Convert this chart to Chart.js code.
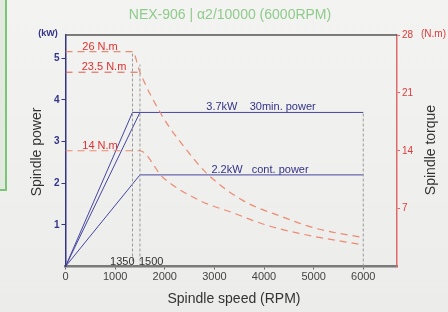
<!DOCTYPE html>
<html>
<head>
<meta charset="utf-8">
<script src="https://cdn.jsdelivr.net/npm/chart.js@4.4.1/dist/chart.umd.min.js"></script>
<style>
  body { margin: 0; background: #f0f0ee; }
  #wrap { position: relative; width: 448px; height: 312px;
          background: linear-gradient(#f3f3f1, #ececea); }
  #side { position: absolute; left: 0; top: 0; width: 5px; height: 189px;
          background: #e2e9df; border-right: 2px solid #7cc47a; border-bottom: 2px solid #7cc47a; }
</style>
</head>
<body>
<div id="wrap">
  <div id="side"></div>
  <canvas id="chart" width="448" height="312"></canvas>
</div>
<script>
// chart text
const chartTitle = "NEX-906 | \u03b12/10000 (6000RPM)";
const xTitle = "Spindle speed (RPM)";
const yTitle = "Spindle power";
const y2Title = "Spindle torque";

// tick labels
const speedTicks = [0, 1000, 2000, 3000, 4000, 5000, 6000];
const powerTicks = [1, 2, 3, 4, 5];
const torqueTicks = [7, 14, 21, 28];

// power curves (kW)
const power30Speed = [0, 1350, 1500, 6000];
const power30 = [0, 3.7, 3.7, 3.7];
const power30bSpeed = [0, 1500];
const power30b = [0, 3.7];
const powerContSpeed = [0, 1500, 6000];
const powerCont = [0, 2.2, 2.2];

// torque curves (N.m)
const torque30Speed = [0, 1350, 1500, 1960, 2440, 2840, 3570, 4370, 5050, 6000];
const torque30 = [26, 26, 23.5, 18.1, 14.1, 11.3, 8.0, 6.0, 4.6, 3.5];
const torqueContSpeed = [0, 1500, 1960, 2700, 3370, 4050, 4710, 6000];
const torqueCont = [14, 14, 10.8, 8.0, 6.5, 5.0, 4.0, 2.6];
const torqueRefSpeed = [0, 1500];
const torqueRef = [23.5, 23.5];

// guide lines (kW scale)
const guideSpeeds = [1350, 1500, 6000];
const guideTops = [5.15, 4.85, 3.7];

const pts = (xs, ys) => xs.map((x, i) => ({ x: x, y: ys[i] }));
const setTicks = (values) => (scale) => { scale.ticks = values.map((v) => ({ value: v })); };

const blue = "#4646a0";
const navy = "#33338a";
const red = "#e05a4a";
const salmon = "#ec8a72";

const datasets = [];
guideSpeeds.forEach((s, i) => {
  datasets.push({
    data: pts([s, s], [0, guideTops[i]]),
    borderColor: "#9a9a9a", borderWidth: 1, borderDash: [3, 2], yAxisID: "y"
  });
});
datasets.push({ data: pts(torqueRefSpeed, torqueRef), borderColor: red, borderWidth: 1, borderDash: [7, 6], yAxisID: "y2" });
datasets.push({ data: pts(torque30Speed, torque30), borderColor: salmon, borderWidth: 1.2, borderDash: [7, 5], yAxisID: "y2", cubicInterpolationMode: "monotone" });
datasets.push({ data: pts(torqueContSpeed, torqueCont), borderColor: salmon, borderWidth: 1.2, borderDash: [7, 5], yAxisID: "y2", cubicInterpolationMode: "monotone" });
datasets.push({ data: pts(power30Speed, power30), borderColor: blue, borderWidth: 1, yAxisID: "y" });
datasets.push({ data: pts(power30bSpeed, power30b), borderColor: blue, borderWidth: 1, yAxisID: "y" });
datasets.push({ data: pts(powerContSpeed, powerCont), borderColor: blue, borderWidth: 1, yAxisID: "y" });

const font = '"Liberation Sans", Arial, sans-serif';

// texts drawn on top of the chart
const decorations = {
  id: "decorations",
  afterDraw(chart) {
    const ctx = chart.ctx;
    const a = chart.chartArea;
    const x = chart.scales.x, y = chart.scales.y, y2 = chart.scales.y2;
    ctx.save();
    // top frame line
    ctx.strokeStyle = "#555";
    ctx.lineWidth = 1.5;
    ctx.beginPath();
    ctx.moveTo(a.left, a.top);
    ctx.lineTo(a.right, a.top);
    ctx.stroke();

    // title
    ctx.fillStyle = "#8fcb8c";
    ctx.font = "14px " + font;
    ctx.textAlign = "center";
    ctx.textBaseline = "middle";
    ctx.fillText(chartTitle, 230, 15);

    // axis titles
    ctx.fillStyle = "#333";
    ctx.font = "14px " + font;
    ctx.fillText(xTitle, 234, 299);
    ctx.save();
    ctx.translate(37, 152);
    ctx.rotate(-Math.PI / 2);
    ctx.fillText(yTitle, 0, 0);
    ctx.restore();
    ctx.save();
    ctx.translate(431, 150);
    ctx.rotate(-Math.PI / 2);
    ctx.fillText(y2Title, 0, 0);
    ctx.restore();

    // units
    ctx.font = "bold 9px " + font;
    ctx.fillStyle = navy;
    ctx.fillText("(kW)", 48, 34);
    ctx.font = "10px " + font;
    ctx.fillStyle = "#e03a3a";
    ctx.textAlign = "left";
    ctx.fillText("(N.m)", 421, 34);

    // torque labels
    ctx.font = "11px " + font;
    ctx.fillStyle = "#e03030";
    ctx.textAlign = "center";
    ctx.textBaseline = "alphabetic";
    ctx.fillText("26 N.m", 100, y2.getPixelForValue(26) - 2);
    ctx.fillText("23.5 N.m", 104, y2.getPixelForValue(23.5) - 2);
    ctx.fillText("14 N.m", 100, y2.getPixelForValue(14) - 2);

    // power labels
    ctx.fillStyle = navy;
    ctx.fillText("3.7kW    30min. power", 261, y.getPixelForValue(3.7) - 2);
    ctx.fillText("2.2kW   cont. power", 260, y.getPixelForValue(2.2) - 2);

    // base speed labels
    ctx.fillStyle = "#333";
    ctx.textAlign = "right";
    ctx.fillText("1350", x.getPixelForValue(1350) + 2, a.bottom - 2);
    ctx.textAlign = "left";
    ctx.fillText("1500", x.getPixelForValue(1500) - 1, a.bottom - 2);
    ctx.restore();
  }
};

new Chart(document.getElementById("chart"), {
  type: "scatter",
  data: { datasets: datasets },
  options: {
    responsive: false,
    animation: false,
    showLine: true,
    layout: { padding: { top: 35, left: 0, right: 0, bottom: 0 } },
    elements: { point: { radius: 0 }, line: { tension: 0 } },
    plugins: { legend: { display: false }, tooltip: { enabled: false } },
    scales: {
      x: {
        type: "linear", min: 0, max: 6680,
        afterBuildTicks: setTicks(speedTicks),
        afterFit: (s) => { s.height = 45.5; },
        border: { color: "#7a7a7a", width: 2.5 },
        grid: { drawOnChartArea: false, tickLength: 3, color: "#666" },
        ticks: {
          color: "#444", padding: 1, autoSkip: false, maxRotation: 0,
          font: { family: font, size: 11 },
          callback: (v) => String(v)
        }
      },
      y: {
        position: "left", min: 0, max: 5.56,
        afterBuildTicks: setTicks(powerTicks),
        afterFit: (s) => { s.width = 65.5; },
        border: { color: navy, width: 1.5 },
        grid: { drawOnChartArea: false, tickLength: 4, color: navy },
        ticks: {
          color: navy, padding: 2, autoSkip: false,
          font: { family: font, size: 10, weight: "bold" },
          callback: (v) => String(v)
        }
      },
      y2: {
        position: "right", min: 0, max: 28,
        afterBuildTicks: setTicks(torqueTicks),
        afterFit: (s) => { s.width = 51; },
        border: { color: "#e06a6a", width: 1.5 },
        grid: { drawOnChartArea: false, tickLength: 3, color: "#e06a6a" },
        ticks: {
          color: "#e03a3a", padding: 2, autoSkip: false,
          font: { family: font, size: 10 },
          callback: (v) => String(v)
        }
      }
    }
  },
  plugins: [decorations]
});
</script>
</body>
</html>
